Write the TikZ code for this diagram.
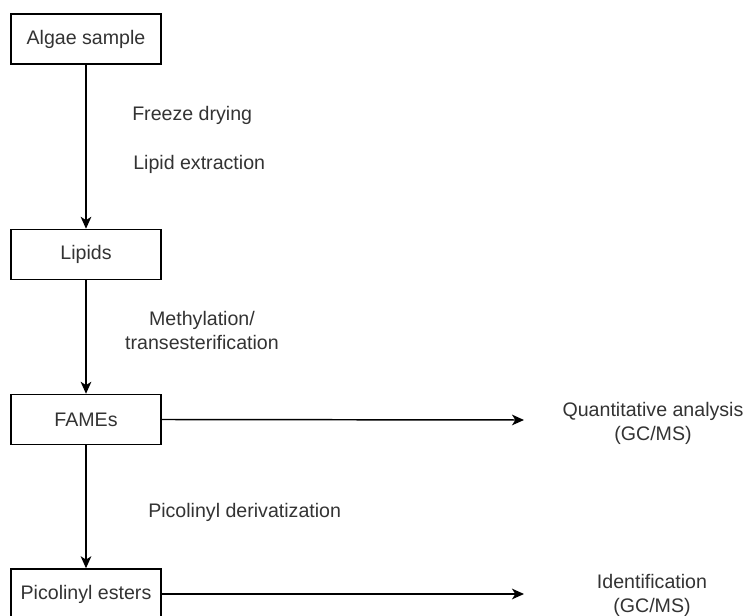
\documentclass[tikz,border=0pt]{standalone}
\usepackage{fontspec}
\setmainfont{Liberation Sans}
\usetikzlibrary{arrows.meta}
\begin{document}
\begin{tikzpicture}[x=0.75pt,y=-0.75pt,
  every node/.style={font=\fontsize{14.7pt}{18pt}\selectfont, text=black!80},
  stepbox/.style={draw=black, line width=1.1pt, minimum width=112.5pt, minimum height=37.5pt, inner sep=0pt, fill=white},
  lbl/.style={align=center, inner sep=0pt},
  arr/.style={draw=black, line width=1.1pt, -{Stealth[length=9pt,width=8pt,inset=2.5pt]}}]
\useasboundingbox (0,0) rectangle (747,616);
\clip (0,0) rectangle (747,616);
\fill[white] (0,0) rectangle (747,616);
\node[stepbox] (algae) at (86,39) {Algae sample};
\node[stepbox] (lipids) at (86,254.5) {Lipids};
\node[stepbox] (fames) at (86,419.5) {FAMEs};
\node[stepbox] (pic) at (86,594) {Picolinyl esters};
\draw[arr] (algae) -- (lipids);
\draw[arr] (lipids) -- (fames);
\draw[arr] (fames) -- (pic);
\coordinate (qtip) at (524,420);
\coordinate (itip) at (524,594);
\draw[arr] (fames.east) -- (qtip);
\draw[arr] (pic.east |- itip) -- (itip);
\node[lbl, anchor=west] (fd) at (132,115) {Freeze drying};
\node[lbl, anchor=west] (le) at (133,164) {Lipid extraction};
\node[lbl] (me) at (202,330) {Methylation/\\transesterification};
\node[lbl, anchor=west] (pd) at (148,512) {Picolinyl derivatization};
\node[lbl] (qa) at (653,423) {Quantitative analysis\\(GC/MS)};
\node[lbl] (id) at (652,595) {Identification\\(GC/MS)};
\end{tikzpicture}
\end{document}
